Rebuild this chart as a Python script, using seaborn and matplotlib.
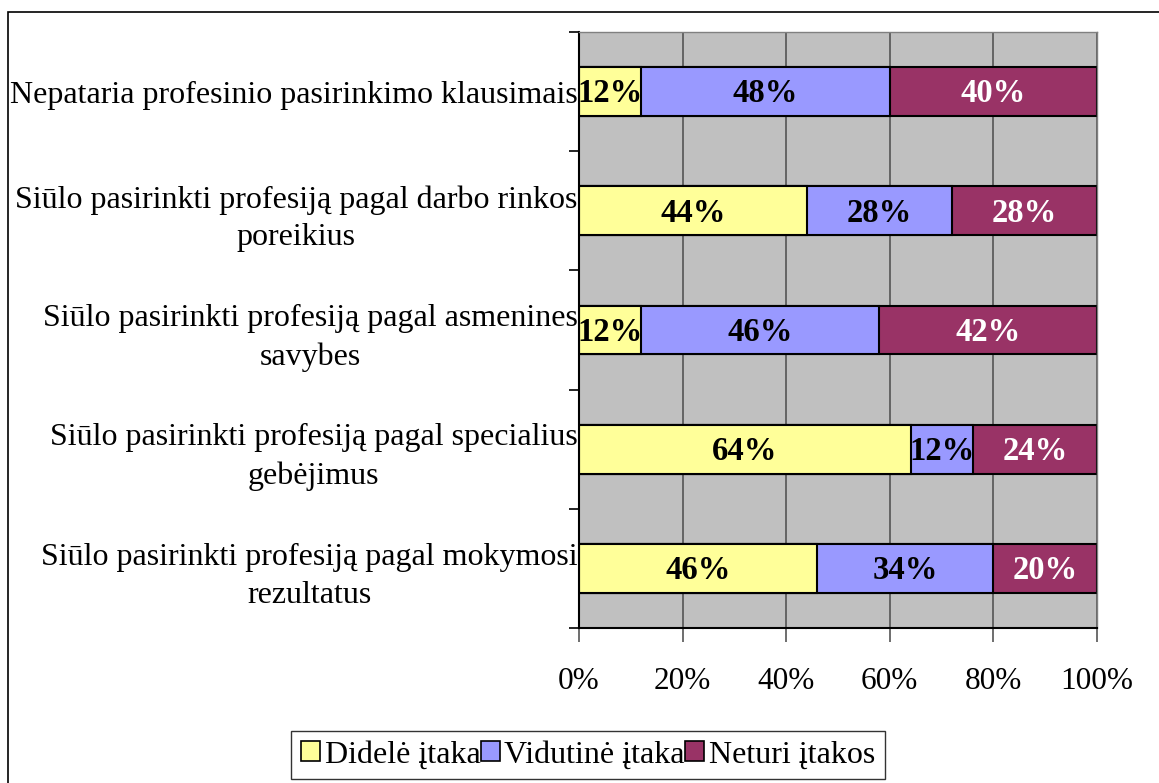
import pandas as pd
import seaborn as sns
import matplotlib.pyplot as plt
from matplotlib.patches import Patch, Rectangle
from matplotlib.ticker import FixedLocator

# Data (top to bottom as in the chart)
categories = [
    "Nepataria profesinio pasirinkimo klausimais",
    "Siūlo pasirinkti profesiją pagal darbo rinkos\nporeikius",
    "Siūlo pasirinkti profesiją pagal asmenines\nsavybes",
    "Siūlo pasirinkti profesiją pagal specialius\ngebėjimus",
    "Siūlo pasirinkti profesiją pagal mokymosi\nrezultatus",
]
didele = [12, 44, 12, 64, 46]
vidutine = [48, 28, 46, 12, 34]
neturi = [40, 28, 42, 24, 20]
series_names = ["Didelė įtaka", "Vidutinė įtaka", "Neturi įtakos"]
x_ticks = [0, 20, 40, 60, 80, 100]

colors = ["#FFFF99", "#9999FF", "#993366"]
text_colors = ["black", "black", "white"]

sns.set_style("white")
plt.rcParams['font.family'] = ['Liberation Serif', 'DejaVu Serif']
plt.rcParams['text.color'] = 'black'
plt.rcParams['xtick.labelcolor'] = 'black'
plt.rcParams['ytick.labelcolor'] = 'black'

df = pd.DataFrame({"cat": categories, "d": didele, "v": vidutine, "n": neturi})
df["cum1"] = df["d"]
df["cum2"] = df["d"] + df["v"]
df["cum3"] = df["d"] + df["v"] + df["n"]

fig = plt.figure(figsize=(11.59, 7.83), dpi=100)
ax = fig.add_axes([579 / 1159, 1 - 628 / 783, (1097 - 579) / 1159, (628 - 32) / 783])
ax.set_facecolor("#C0C0C0")

# stacked bars drawn as overlapping cumulative totals
for col, c in zip(["cum3", "cum2", "cum1"], colors[::-1]):
    sns.barplot(data=df, x=col, y="cat", orient="h", color=c, width=0.41,
                edgecolor="black", linewidth=1.5, saturation=1, ax=ax)

# value labels
for i in range(len(categories)):
    start = 0
    for vals, tc in zip([didele, vidutine, neturi], text_colors):
        v = vals[i]
        ax.text(start + v / 2, i + 0.02, f"{v}%", ha="center", va="center",
                fontsize=23.5, fontweight="bold", color=tc)
        start += v

ax.set_xlim(0, 100)
ax.set_ylim(len(categories) - 0.5, -0.5)
ax.set_xticks(x_ticks)
ax.set_xticklabels([f"{t}%" for t in x_ticks], fontsize=22.5)
ax.xaxis.grid(True, color="#555555", linewidth=1.2)
ax.set_axisbelow(True)
ax.set_xlabel("")
ax.set_ylabel("")

ax.set_yticks(range(len(categories)))
ax.set_yticklabels(categories, fontsize=23, multialignment="center", linespacing=1.4)
ax.tick_params(axis="y", length=0, pad=1)
ax.yaxis.set_minor_locator(FixedLocator([i - 0.5 for i in range(len(categories) + 1)]))
ax.tick_params(axis="y", which="minor", length=7, width=1.2, color="black", left=True)
ax.tick_params(axis="x", length=10, width=1.2, color="#555555", bottom=True, pad=18)

for side in ["left", "bottom"]:
    ax.spines[side].set_color("black")
    ax.spines[side].set_linewidth(1.5)
for side in ["top", "right"]:
    ax.spines[side].set_color("#808080")
    ax.spines[side].set_linewidth(1.0)

handles = [Patch(facecolor=c, edgecolor="black", linewidth=1.2) for c in colors]
leg = fig.legend(handles, series_names, loc="center", bbox_to_anchor=(588 / 1159, 1 - 755 / 783),
                 ncol=3, fontsize=23, frameon=True, fancybox=False, edgecolor="black",
                 handlelength=0.6, handleheight=0.6, handletextpad=0.15, columnspacing=0.0,
                 borderpad=0.3, borderaxespad=0)
leg.get_frame().set_linewidth(1.0)

# outer chart border
fig.patches.append(Rectangle((8 / 1159, -0.1), 1.2, 1.1 - 12 / 783, transform=fig.transFigure,
                             fill=False, edgecolor="black", linewidth=1.2))

fig.savefig("out.png", dpi=100)
